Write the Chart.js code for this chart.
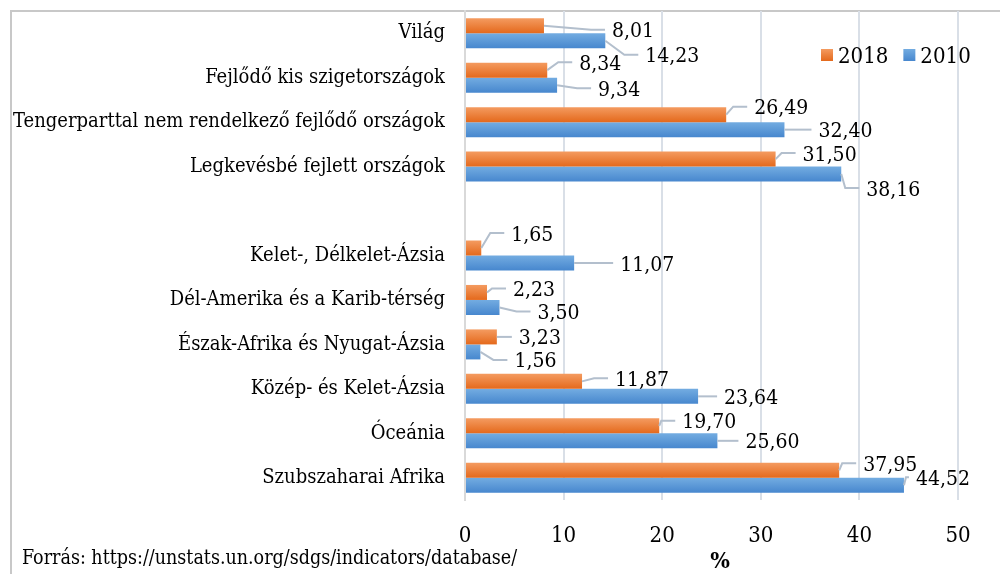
<!DOCTYPE html>
<html><head><meta charset="utf-8">
<script src="https://cdn.jsdelivr.net/npm/chart.js@4.4.1/dist/chart.umd.min.js"></script>
<style>html,body{margin:0;padding:0;background:#fff}#wrap{width:1000px;height:574px;position:relative}</style>
</head><body><div id="wrap"><canvas id="c" width="1000" height="574"></canvas></div>
<script>
const categories = ['Világ','Fejlődő kis szigetországok','Tengerparttal nem rendelkező fejlődő országok','Legkevésbé fejlett országok','','Kelet-, Délkelet-Ázsia','Dél-Amerika és a Karib-térség','Észak-Afrika és Nyugat-Ázsia','Közép- és Kelet-Ázsia','Óceánia','Szubszaharai Afrika'];
const values2018 = [8.01, 8.34, 26.49, 31.50, null, 1.65, 2.23, 3.23, 11.87, 19.70, 37.95];
const values2010 = [14.23, 9.34, 32.40, 38.16, null, 11.07, 3.50, 1.56, 23.64, 25.60, 44.52];
const seriesNames = ['2018', '2010'];
const xTicks = [0, 10, 20, 30, 40, 50];
const axisTitle = '%';
const sourceNote = 'Forrás: https://unstats.un.org/sdgs/indicators/database/';
// label placement nudges (px, relative to bar end) – layout only
const labelNudge2018 = [[68,4],[32,-8],[28,-8],[27,-6],null,[30,-15],[26,-4],[22,0],[33,-3],[23,-5],[24,-7]];
const labelNudge2010 = [[40,14],[41,3],[34,0],[25,14],null,[46,0],[38,4],[34,8],[26,0],[28,0],[12,-8]];

const FONT = "'DejaVu Serif Condensed', 'DejaVu Serif', serif";
const fmt = v => v.toFixed(2).replace('.', ',');
const gradStops = [['#F49B60', '#E4691C'], ['#73ACE1', '#4787CE']];

const framePlugin = {
  id: 'frame',
  beforeDraw(chart) {
    const c = chart.ctx; c.save();
    c.fillStyle = '#fff'; c.fillRect(0, 0, chart.width, chart.height);
    c.strokeStyle = '#C8C8C8'; c.lineWidth = 2;
    c.beginPath(); c.moveTo(11, 574); c.lineTo(11, 11); c.lineTo(1000, 11); c.stroke();
    c.restore();
  }
};
const gradientPlugin = {
  id: 'grad',
  beforeDatasetsDraw(chart) {
    const c = chart.ctx;
    chart.data.datasets.forEach((ds, di) => {
      chart.getDatasetMeta(di).data.forEach(bar => {
        const h = bar.height || 0;
        if (!h) return;
        const g = c.createLinearGradient(0, bar.y - h / 2, 0, bar.y + h / 2);
        g.addColorStop(0, gradStops[di][0]);
        g.addColorStop(1, gradStops[di][1]);
        bar.options = Object.assign({}, bar.options, { backgroundColor: g });
      });
    });
  }
};
const labelPlugin = {
  id: 'lbl',
  afterDatasetsDraw(chart) {
    const c = chart.ctx; c.save();
    const size = 21;
    c.font = size + 'px ' + FONT; c.textBaseline = 'alphabetic'; c.textAlign = 'left';
    chart.data.datasets.forEach((ds, di) => {
      const meta = chart.getDatasetMeta(di);
      meta.data.forEach((bar, i) => {
        const v = ds.data[i]; if (v == null) return;
        const n = ds.nudges[i] || [20, 0];
        const ax = bar.x, ay = bar.y;
        const tx = ax + n[0], ty = ay + n[1];
        const ex = tx - 7, mx = Math.max(ax + 2, ex - 14);
        c.strokeStyle = '#B3BFCD'; c.lineWidth = 2;
        c.beginPath(); c.moveTo(ax, ay); c.lineTo(mx, ty); c.lineTo(ex, ty); c.stroke();
        c.fillStyle = '#000'; c.fillText(fmt(v), tx, ty + size * 0.36);
      });
    });
    c.restore();
  }
};
const legendPlugin = {
  id: 'lgd',
  afterDraw(chart) {
    const c = chart.ctx; c.save();
    c.font = '22px ' + FONT; c.textBaseline = 'alphabetic'; c.textAlign = 'left';
    let x = 821; const cy = 55;
    chart.data.datasets.forEach((ds, di) => {
      const g = c.createLinearGradient(0, cy - 6, 0, cy + 6);
      g.addColorStop(0, gradStops[di][0]); g.addColorStop(1, gradStops[di][1]);
      c.fillStyle = g; c.fillRect(x, cy - 6, 12, 12);
      x += 17;
      c.fillStyle = '#000'; c.fillText(ds.label, x, cy + 8);
      x += c.measureText(ds.label).width + 15;
    });
    c.restore();
  }
};
const footerPlugin = {
  id: 'ftr',
  afterDraw(chart) {
    const c = chart.ctx; c.save();
    c.fillStyle = '#000'; c.textBaseline = 'alphabetic';
    c.font = '19.5px ' + FONT; c.textAlign = 'left';
    c.fillText(sourceNote, 22, 564);
    c.font = 'bold 23px ' + FONT; c.textAlign = 'center';
    c.fillText(axisTitle, 720, 568);
    c.restore();
  }
};

new Chart(document.getElementById('c'), {
  type: 'bar',
  data: {
    labels: categories,
    datasets: [
      { label: seriesNames[0], data: values2018, backgroundColor: '#ED7D31', nudges: labelNudge2018 },
      { label: seriesNames[1], data: values2010, backgroundColor: '#5B9BD5', nudges: labelNudge2010 }
    ]
  },
  options: {
    indexAxis: 'y', responsive: false, animation: false,
    layout: { padding: { top: 11, right: 42, left: 0, bottom: 0 } },
    datasets: { bar: { categoryPercentage: 0.675, barPercentage: 1 } },
    plugins: { legend: { display: false }, tooltip: { enabled: false } },
    scales: {
      x: {
        min: 0, max: 50,
        afterBuildTicks: s => { s.ticks = xTicks.map(v => ({ value: v })); },
        grid: { color: '#D9DFE7', lineWidth: 2, drawTicks: false },
        border: { display: false },
        ticks: { font: { family: FONT, size: 22 }, color: '#000', padding: 23 },
        afterFit: s => { s.height = 74; s.paddingLeft = 0; s.paddingRight = 0; }
      },
      y: {
        grid: { display: false, drawTicks: false },
        border: { display: true, color: '#D9D9D9', width: 2 },
        ticks: { font: { family: FONT, size: 20 }, color: '#000', padding: 20, autoSkip: false },
        afterFit: s => { s.width = 465; s.paddingTop = 0; s.paddingBottom = 0; }
      }
    }
  },
  plugins: [framePlugin, gradientPlugin, labelPlugin, legendPlugin, footerPlugin]
});
</script></body></html>
